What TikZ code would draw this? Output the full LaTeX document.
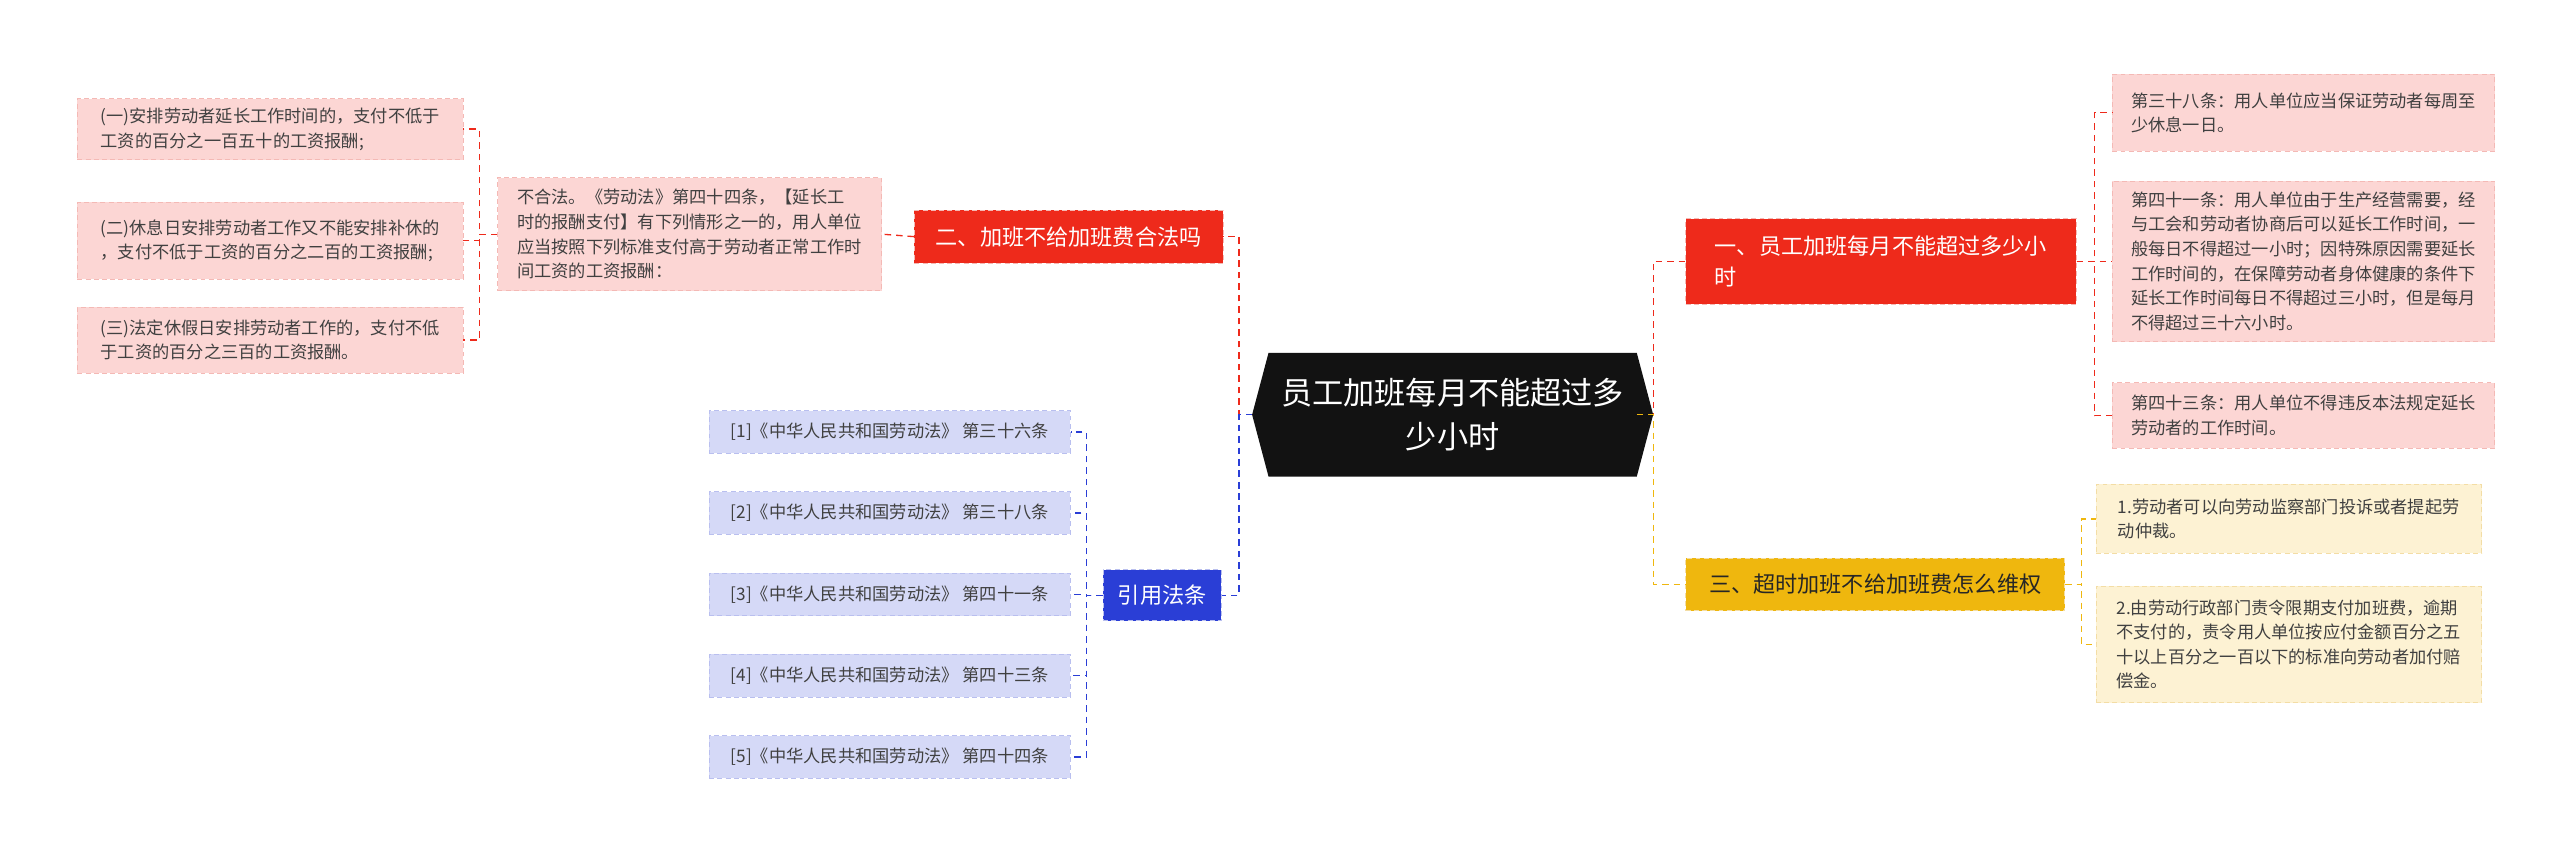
\documentclass[tikz,border=0pt]{standalone}
\usepackage{fontspec}
\setmainfont{Noto Sans CJK SC}
\usetikzlibrary{positioning, calc}
\definecolor{redM}{HTML}{EE2A1B}
\definecolor{redL}{HTML}{FCD6D4}
\definecolor{redB}{HTML}{F4B9B5}
\definecolor{ylwM}{HTML}{EFB70E}
\definecolor{ylwL}{HTML}{FDF2D3}
\definecolor{ylwB}{HTML}{F3DDA5}
\definecolor{bluM}{HTML}{2A3ED6}
\definecolor{bluL}{HTML}{D5D9F7}
\definecolor{bluB}{HTML}{B9BFEF}
\begin{document}
\begin{tikzpicture}[x=1pt, y=-1pt,
  leaf/.style={anchor=north west, align=left, inner sep=5pt, font=\fontsize{10.5}{15}\selectfont, text=black!75, dashed, dash pattern=on 3pt off 2pt},
  redleaf/.style={leaf, fill=redL, draw=redB},
  ylwleaf/.style={leaf, fill=ylwL, draw=ylwB},
  bluleaf/.style={leaf, fill=bluL, draw=bluB},
  topic/.style={anchor=north west, align=left, inner sep=6pt, font=\fontsize{13.5}{19}\selectfont, draw, dashed, dash pattern=on 3pt off 2pt},
  rl/.style={redM, dashed, dash pattern=on 4pt off 3pt, thick},
  yl/.style={ylwM, dashed, dash pattern=on 4pt off 3pt, thick},
  bl/.style={bluM, dashed, dash pattern=on 4pt off 3pt, thick}]
\useasboundingbox (0,0) rectangle (1560,519);

% centre
\node[anchor=north west, minimum width=224, minimum height=75, inner sep=0pt,
  align=center, text=white, font=\fontsize{19}{27}\selectfont] (ctr) at (773,215)
  {员工加班每月不能超过多\\少小时};
\fill[black!93] (ctr.north west) -- (ctr.north east) -- ($(ctr.east)+(10,0)$)
  -- (ctr.south east) -- (ctr.south west) -- ($(ctr.west)+(-10,0)$) -- cycle;
\node[anchor=north west, minimum width=224, minimum height=75, inner sep=0pt,
  align=center, text=white, font=\fontsize{19}{27}\selectfont] at (773,215)
  {员工加班每月不能超过多\\少小时};

% topics
\node[topic, fill=redM, draw=redB, text=white, minimum width=238, minimum height=52] (t1) at (1027,133)
  {一、员工加班每月不能超过多少小\\时};
\node[topic, fill=redM, draw=redB, text=white, minimum width=188, minimum height=32, inner sep=4pt] (t2) at (557,128)
  {二、加班不给加班费合法吗};
\node[topic, fill=ylwM, draw=ylwB, text=black!85, minimum width=231, minimum height=32, inner sep=4pt] (t3) at (1027,340)
  {三、超时加班不给加班费怎么维权};
\node[topic, fill=bluM, draw=bluB, text=white, minimum width=72, minimum height=31, inner sep=4pt] (t4) at (672,347)
  {引用法条};

% topic one
\node[redleaf, minimum width=233, minimum height=47] (a1) at (1287,45)
  {第三十八条：用人单位应当保证劳动者每周至\\少休息一日。};
\node[redleaf, minimum width=233, minimum height=98] (a2) at (1287,110)
  {第四十一条：用人单位由于生产经营需要，经\\与工会和劳动者协商后可以延长工作时间，一\\般每日不得超过一小时；因特殊原因需要延长\\工作时间的，在保障劳动者身体健康的条件下\\延长工作时间每日不得超过三小时，但是每月\\不得超过三十六小时。};
\node[redleaf, minimum width=233, minimum height=40] (a3) at (1287,233)
  {第四十三条：用人单位不得违反本法规定延长\\劳动者的工作时间。};

% topic two
\node[redleaf, minimum width=234, minimum height=69] (b0) at (303,108)
  {不合法。《劳动法》第四十四条，【延长工\\时的报酬支付】有下列情形之一的，用人单位\\应当按照下列标准支付高于劳动者正常工作时\\间工资的工资报酬：};
\node[redleaf, minimum width=235, minimum height=37] (b1) at (47,60)
  {(一)安排劳动者延长工作时间的，支付不低于\\工资的百分之一百五十的工资报酬;};
\node[redleaf, minimum width=235, minimum height=47] (b2) at (47,123)
  {(二)休息日安排劳动者工作又不能安排补休的\\，支付不低于工资的百分之二百的工资报酬;};
\node[redleaf, minimum width=235, minimum height=40] (b3) at (47,187)
  {(三)法定休假日安排劳动者工作的，支付不低\\于工资的百分之三百的工资报酬。};

% topic three
\node[ylwleaf, minimum width=235, minimum height=42] (c1) at (1277,295)
  {1.劳动者可以向劳动监察部门投诉或者提起劳\\动仲裁。};
\node[ylwleaf, minimum width=235, minimum height=71] (c2) at (1277,357)
  {2.由劳动行政部门责令限期支付加班费，逾期\\不支付的，责令用人单位按应付金额百分之五\\十以上百分之一百以下的标准向劳动者加付赔\\偿金。};

% citations
\foreach \i/\t in {1/三十六条, 2/三十八条, 3/四十一条, 4/四十三条, 5/四十四条}
  \node[bluleaf, minimum width=220, minimum height=26] (d\i) at (432,{250+(\i-1)*49.5})
    {[\i]《中华人民共和国劳动法》 第\t};

% connectors
\draw[rl] (ctr.east) -- ++(10,0) |- (t1.west);
\draw[yl] (ctr.east) -- ++(10,0) |- (t3.west);
\draw[rl] (ctr.west) ++(-10,0) -- ++(-8,0) |- (t2.east);
\draw[bl] (ctr.west) ++(-10,0) -- ++(-8,0) |- (t4.east);
\foreach \n in {a1,a2,a3} \draw[rl] (t1.east) -- ++(11,0) |- (\n.west);
\foreach \n in {c1,c2} \draw[yl] (t3.east) -- ++(10,0) |- (\n.west);
\draw[rl] (t2.west) -- (b0.east);
\foreach \n in {b1,b2,b3} \draw[rl] (b0.west) -- ++(-11,0) |- (\n.east);
\foreach \n in {d1,d2,d3,d4,d5} \draw[bl] (t4.west) -- ++(-10,0) |- (\n.east);
\end{tikzpicture}
\end{document}
